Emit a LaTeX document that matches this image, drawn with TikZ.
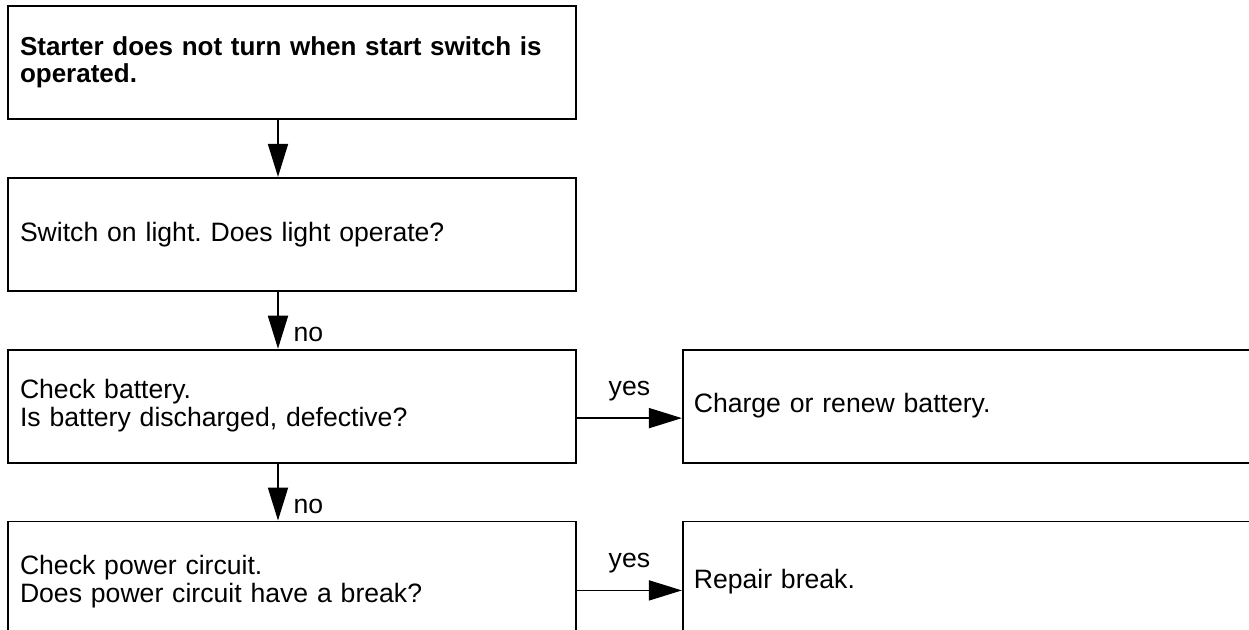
\documentclass[tikz,border=0pt]{standalone}
\usepackage{fontspec}
\setmainfont{Liberation Sans}
\usetikzlibrary{positioning,arrows.meta}
\frenchspacing

\begin{document}
\begin{tikzpicture}[x=0.5pt, y=-0.5pt,
  box/.style={draw, line width=0.9pt, rectangle, minimum height=56.5pt,
    inner xsep=6pt, align=left, font=\fontsize{13.3pt}{14pt}\selectfont},
  leftbox/.style={box, text width=272pt},
  rightbox/.style={box, text width=288pt, inner xsep=5.5pt},
  lastbox/.style={minimum height=60pt},
  flow/.style={line width=0.9pt, -{Triangle[length=16.5pt, width=10pt]}},
  lbl/.style={font=\fontsize{13.3pt}{14pt}\selectfont}]
  \clip (0,0) rectangle (1249,629);

  % levý sloupec
  \node[leftbox, font=\fontsize{13pt}{13.5pt}\selectfont\bfseries] (start) at (292,62.5)
    {Starter does not turn when start switch is\\operated.};
  \node[leftbox, below=28.5pt of start] (light) {Switch on light. Does light operate?};
  \node[leftbox, below=28.5pt of light] (battery) {Check battery.\\Is battery discharged, defective?};
  \node[leftbox, lastbox, below=28.5pt of battery] (circuit) {Check power circuit.\\Does power circuit have a break?};

  % pravý sloupec
  \node[rightbox, right=52.5pt of battery] (charge) {Charge or renew battery.};
  \node[rightbox, lastbox, right=52.5pt of circuit] (repair) {Repair break.};

  % šipky dolů
  \draw[flow] ([xshift=-7pt]start.south) -- ([xshift=-7pt]light.north);
  \draw[flow] ([xshift=-7pt]light.south) -- node[lbl, pos=0.75, right=4pt] {no} ([xshift=-7pt]battery.north);
  \draw[flow] ([xshift=-7pt]battery.south) -- node[lbl, pos=0.75, right=4pt] {no} ([xshift=-7pt]circuit.north);

  % šipky doprava
  \draw[flow] ([yshift=-6pt]battery.east) -- node[lbl, above=5pt] {yes} ([yshift=-6pt]charge.west);
  \draw[flow] ([yshift=-4.5pt]circuit.east) -- node[lbl, above=5pt] {yes} ([yshift=-4.5pt]repair.west);
\end{tikzpicture}
\end{document}
